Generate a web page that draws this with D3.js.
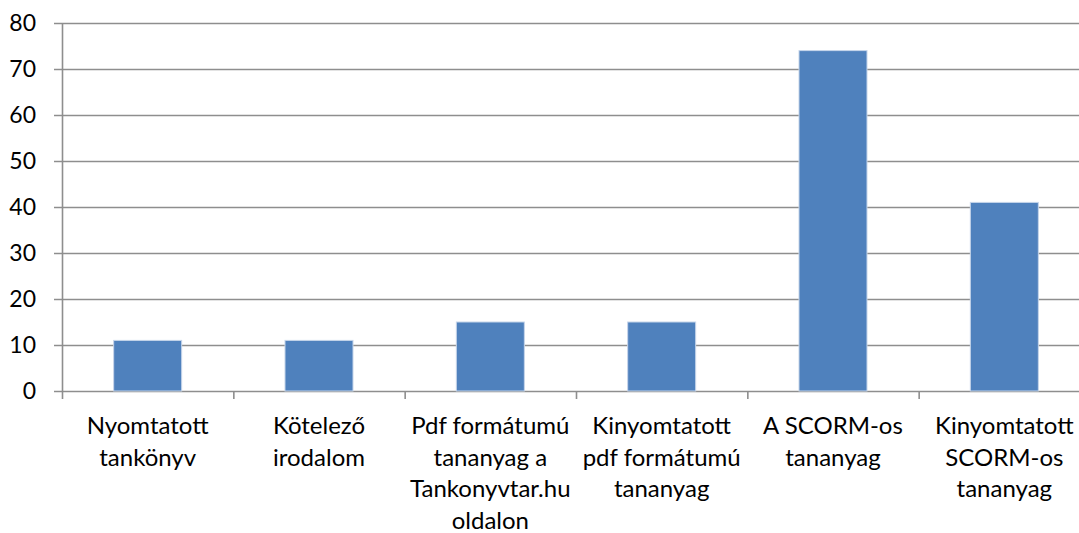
<!DOCTYPE html>
<html>
<head>
<meta charset="utf-8">
<script src="https://cdn.jsdelivr.net/npm/d3@7"></script>
<style>
  html, body { margin: 0; padding: 0; background: #fff; }
  svg { display: block; font-family: Lato, "Open Sans", sans-serif; }
</style>
</head>
<body>
<svg id="chart" width="1079" height="533"></svg>
<script>
// category labels, already wrapped the way the chart shows them
const categories = [
  ['Nyomtatott', 'tankönyv'],
  ['Kötelező', 'irodalom'],
  ['Pdf formátumú', 'tananyag a', 'Tankonyvtar.hu', 'oldalon'],
  ['Kinyomtatott', 'pdf formátumú', 'tananyag'],
  ['A SCORM-os', 'tananyag'],
  ['Kinyomtatott', 'SCORM-os', 'tananyag']
];
const values = [11, 11, 15, 15, 74, 41];
const yTicks = [0, 10, 20, 30, 40, 50, 60, 70, 80];

const svg = d3.select('#chart');
const W = 1079;
const mLeft = 62, mTop = 23, mBottom = 391, plotRight = 1090;

const keys = categories.map((c, i) => i);
const x = d3.scaleBand().domain(keys).range([mLeft, plotRight]).paddingInner(0).paddingOuter(0);
const y = d3.scaleLinear().domain([0, 80]).range([mBottom, mTop]);

const gridColor = '#8e8e8e';

// horizontal gridlines
svg.append('g').selectAll('line').data(yTicks).join('line')
  .attr('x1', mLeft - 8).attr('x2', W)
  .attr('y1', d => y(d) + 0.5).attr('y2', d => y(d) + 0.5)
  .attr('stroke', gridColor).attr('stroke-width', 1.6);

// y axis line
svg.append('line')
  .attr('x1', mLeft + 0.5).attr('x2', mLeft + 0.5)
  .attr('y1', mTop).attr('y2', mBottom)
  .attr('stroke', gridColor).attr('stroke-width', 1.6);

// x tick marks at band boundaries
const bounds = keys.map(k => x(k)).concat([plotRight]);
svg.append('g').selectAll('line').data(bounds).join('line')
  .attr('x1', d => d + 0.5).attr('x2', d => d + 0.5)
  .attr('y1', mBottom).attr('y2', mBottom + 8)
  .attr('stroke', gridColor).attr('stroke-width', 1.6);

// y tick labels
svg.append('g').selectAll('text').data(yTicks).join('text')
  .attr('x', 36).attr('y', d => y(d))
  .attr('dy', '0.36em')
  .attr('text-anchor', 'end')
  .attr('font-size', 23).attr('fill', '#000')
  .text(d => d);

// bars
const barW = 68;
svg.append('g').selectAll('rect').data(values).join('rect')
  .attr('x', (d, i) => x(i) + x.bandwidth() / 2 - barW / 2)
  .attr('width', barW)
  .attr('y', d => y(d))
  .attr('height', d => y(0) - y(d))
  .attr('fill', '#4f81bd')
  .attr('stroke', '#c6d5ea').attr('stroke-width', 1);

// category labels
const lab = svg.append('g').selectAll('text').data(categories).join('text')
  .attr('x', (d, i) => x(i) + x.bandwidth() / 2)
  .attr('y', 434)
  .attr('text-anchor', 'middle')
  .attr('font-size', 24).attr('fill', '#000');
lab.selectAll('tspan').data(d => d).join('tspan')
  .attr('x', function () { return d3.select(this.parentNode).attr('x'); })
  .attr('dy', (d, i) => i === 0 ? 0 : 31.5)
  .text(d => d);
</script>
</body>
</html>
